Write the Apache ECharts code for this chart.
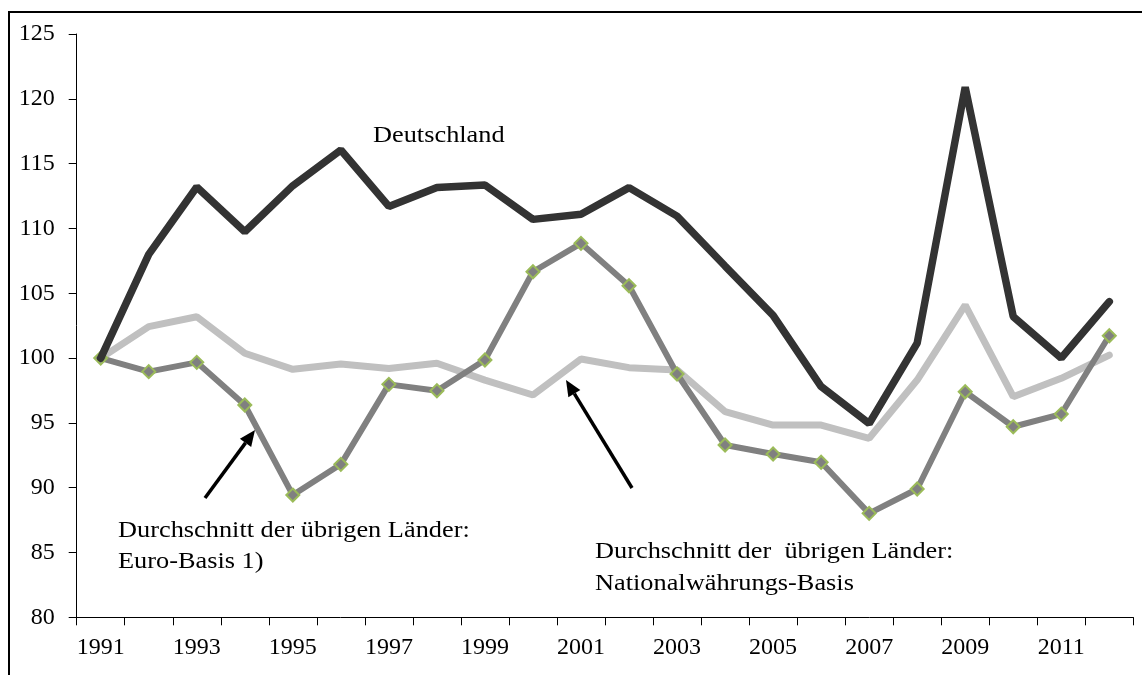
<!DOCTYPE html>
<html>
<head>
<meta charset="utf-8">
<script src="https://cdn.jsdelivr.net/npm/echarts@6/dist/echarts.min.js"></script>
<style>
html,body{margin:0;padding:0;background:#fff;}
#chart{width:1142px;height:675px;}
</style>
</head>
<body>
<div id="chart"></div>
<script>
const years = ['1991','1992','1993','1994','1995','1996','1997','1998','1999','2000','2001','2002','2003','2004','2005','2006','2007','2008','2009','2010','2011','2012'];
const deutschland = [100,108,113.2,109.75,113.3,116.05,111.7,113.15,113.35,110.7,111.1,113.15,110.95,107.1,103.3,97.8,94.95,101.15,120.9,103.2,100,104.35];
const euroBasis = [100,98.95,99.67,96.38,89.43,91.8,97.97,97.48,99.85,106.66,108.85,105.58,98.77,93.29,92.6,91.96,88.02,89.9,97.4,94.7,95.68,101.72];
const nationalBasis = [100,102.42,103.19,100.37,99.13,99.54,99.2,99.6,98.3,97.15,99.93,99.26,99.08,95.86,94.83,94.83,93.81,98.3,104.09,97.02,98.44,100.23];
const yTicks = {min: 80, max: 125, interval: 5};

const FONT = 'Liberation Serif';

function arrow(tail, tip, len, half, w) {
  const dx = tip[0]-tail[0], dy = tip[1]-tail[1];
  const d = Math.sqrt(dx*dx+dy*dy);
  const ux = dx/d, uy = dy/d;
  const bx = tip[0]-ux*len, by = tip[1]-uy*len;
  const nx = -uy, ny = ux;
  return [
    {type:'line', shape:{x1:tail[0],y1:tail[1],x2:bx,y2:by}, style:{stroke:'#000',lineWidth:w}, silent:true},
    {type:'polygon', shape:{points:[[tip[0],tip[1]],[bx+nx*half,by+ny*half],[bx-nx*half,by-ny*half]]}, style:{fill:'#000'}, silent:true}
  ];
}

function label(text, x, y) {
  return {type:'text', x:x, y:y, scaleX:1.145, style:{text:text, fontFamily:FONT, fontSize:23, fill:'#000', verticalAlign:'middle'}, silent:true};
}

const chart = echarts.init(document.getElementById('chart'), null, {renderer:'canvas'});
chart.setOption({
  animation:false,
  backgroundColor:'#fff',
  grid:{left:76.7, right:8.7, top:34, bottom:57.7},
  xAxis:{
    type:'category',
    data:years,
    boundaryGap:true,
    axisLine:{lineStyle:{color:'#000',width:1}},
    axisTick:{show:true, interval:0, length:8, lineStyle:{color:'#000'}},
    axisLabel:{interval:1, color:'#000', fontFamily:FONT, fontSize:24, margin:18},
    splitLine:{show:false}
  },
  yAxis:{
    type:'value',
    min:yTicks.min, max:yTicks.max, interval:yTicks.interval,
    axisLine:{show:true, lineStyle:{color:'#000',width:1}},
    axisTick:{show:true, length:8, lineStyle:{color:'#000'}},
    axisLabel:{color:'#000', fontFamily:FONT, fontSize:24, margin:22},
    splitLine:{show:false}
  },
  series:[
    {name:'Nationalwährungs-Basis', type:'line', data:nationalBasis, showSymbol:false, symbol:'none',
     lineStyle:{color:'#c0c0c0', width:7, cap:'round'}, z:2},
    {name:'Euro-Basis', type:'line', data:euroBasis, symbol:'diamond', symbolSize:13, showSymbol:true,
     lineStyle:{color:'#808080', width:6},
     itemStyle:{color:'#808080', borderColor:'#9bbb59', borderWidth:2}, z:3},
    {name:'Deutschland', type:'line', data:deutschland, showSymbol:false, symbol:'none',
     lineStyle:{color:'#333333', width:7.5, cap:'round'}, z:4}
  ],
  graphic:[
    {type:'rect', shape:{x:9, y:12, width:1150, height:680}, style:{fill:null, stroke:'#000', lineWidth:2}, silent:true, z:100},
    label('Deutschland', 373, 136),
    label('Durchschnitt der übrigen Länder:', 118, 531),
    label('Euro-Basis 1)', 118, 562),
    label('Durchschnitt der  übrigen Länder:', 595, 552),
    label('Nationalwährungs-Basis', 595, 584)
  ].concat(arrow([205,498],[255,430],16,7,3.5)).concat(arrow([632,488],[566,380],16,7,3.5))
});
</script>
</body>
</html>
